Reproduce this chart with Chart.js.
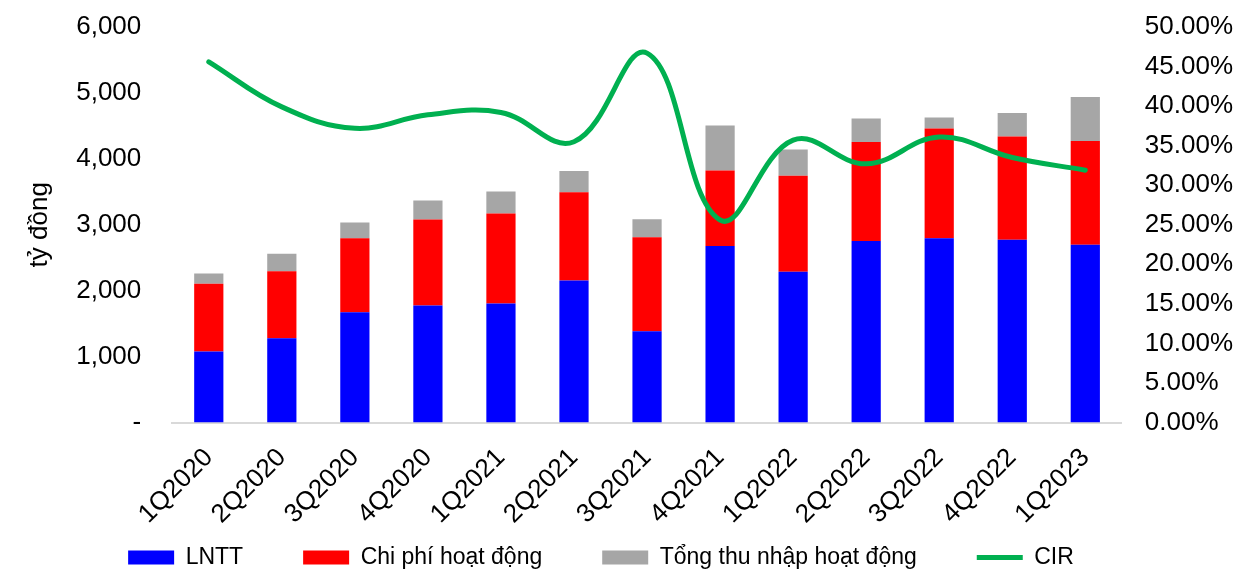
<!DOCTYPE html>
<html>
<head>
<meta charset="utf-8">
<script src="https://cdn.jsdelivr.net/npm/chart.js@4/dist/chart.umd.min.js"></script>
<style>
  html, body { margin: 0; padding: 0; background: #fff; }
  #wrap { width: 1243px; height: 573px; }
</style>
</head>
<body>
<div id="wrap"><canvas id="myChart" width="1243" height="573"></canvas></div>
<script>
	var quarters = ["1Q2020","2Q2020","3Q2020","4Q2020","1Q2021","2Q2021","3Q2021","4Q2021","1Q2022","2Q2022","3Q2022","4Q2022","1Q2023"];
	var lntt = [1077,1279,1674,1775,1806,2155,1386,2676,2286,2752,2797,2772,2696];
	var chiPhi = [1028,1017,1123,1305,1365,1340,1426,1148,1457,1502,1664,1568,1573];
	var tongThuNhap = [156,263,238,289,334,319,273,683,400,359,167,354,668];
	var cir = [45.6,39.9,37.2,38.9,39.2,35.5,46.7,25.6,35.7,32.7,36.1,33.5,31.9];

	Chart.defaults.font.family = "'Liberation Sans', Arial, sans-serif";
	Chart.defaults.font.size = 26;
	Chart.defaults.color = "#000";

	var legendPad = 60;
	// legend keeps wide gaps between items but only a thin strip of height
	var legendStrip = {
		id: "legendStrip",
		beforeInit: function(chart) {
			var fit = chart.legend.fit;
			chart.legend.fit = function() { fit.call(this); this.height = 31; };
		},
		afterLayout: function(chart) {
			var lg = chart.legend;
			lg.top -= (legendPad - 4);
			lg.left -= 32; lg.right -= 32;
		}
	};

	new Chart("myChart", {
		type: "bar",
		data: {
			labels: quarters,
			datasets: [
				{ label: "LNTT", data: lntt, backgroundColor: "#0000ff", stack: "s", yAxisID: "y", order: 1, pointStyle: "rect" },
				{ label: "Chi phí hoạt động", data: chiPhi, backgroundColor: "#ff0000", stack: "s", yAxisID: "y", order: 1, pointStyle: "rect" },
				{ label: "Tổng thu nhập hoạt động", data: tongThuNhap, backgroundColor: "#a6a6a6", stack: "s", yAxisID: "y", order: 1, pointStyle: "rect" },
				{
					type: "line", label: "CIR", data: cir, yAxisID: "y2", order: 0,
					borderColor: "#00b050", backgroundColor: "#00b050", borderWidth: 5,
					pointRadius: 0, tension: 0.4, pointStyle: "line", borderCapStyle: "round"
				}
			]
		},
		options: {
			responsive: false,
			animation: false,
			layout: { autoPadding: false, padding: { left: 22, right: -1, top: 27, bottom: 0 } },
			datasets: { bar: { categoryPercentage: 1, barPercentage: 0.4 } },
			scales: {
				x: {
					stacked: true,
					grid: { display: false },
					border: { display: true, color: "#d9d9d9", width: 2 },
					ticks: { minRotation: 45, maxRotation: 45, padding: 12 }
				},
				y: {
					stacked: true,
					position: "left",
					min: 0, max: 6000,
					grid: { display: false, tickLength: 20 },
					border: { display: false },
					ticks: {
						stepSize: 1000, padding: 11,
						callback: function(v) { return v === 0 ? "-" : v.toLocaleString("en-US"); }
					},
					title: { display: true, text: "tỷ đồng", padding: { top: 2, bottom: 10 } }
				},
				y2: {
					position: "right",
					min: 0, max: 50,
					grid: { display: false, tickLength: 12 },
					border: { display: false },
					ticks: {
						stepSize: 5, padding: 11,
						callback: function(v) { return v.toFixed(2) + "%"; }
					}
				}
			},
			plugins: {
				legend: {
					position: "bottom",
					labels: {
						font: { size: 23 },
						usePointStyle: true,
						pointStyleWidth: 46,
						boxHeight: 14,
						padding: legendPad,
						sort: function(a, b) { return a.datasetIndex - b.datasetIndex; }
					}
				},
				tooltip: { enabled: false }
			}
		},
		plugins: [legendStrip]
	});
</script>
</body>
</html>
